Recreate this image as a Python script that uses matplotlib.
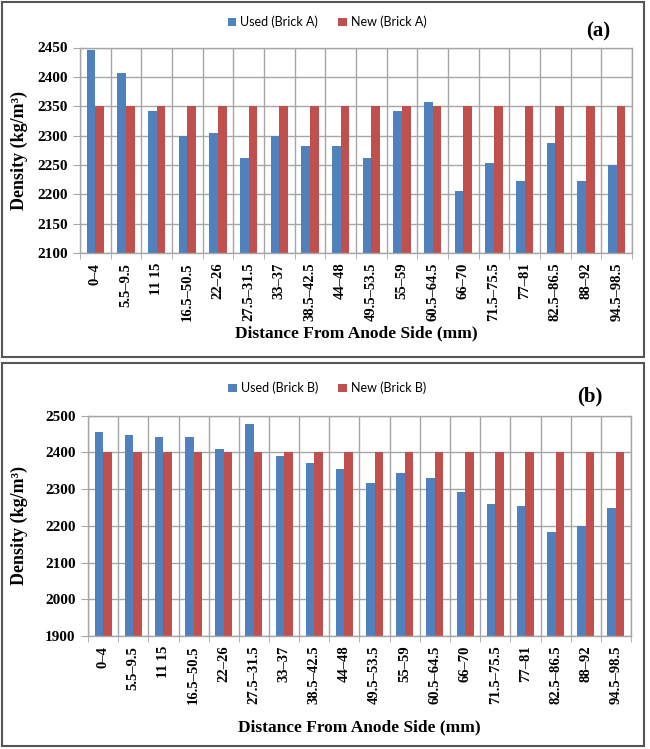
import matplotlib
matplotlib.use("Agg")
import matplotlib.pyplot as plt
import numpy as np
from matplotlib.patches import Rectangle

# Dati
distanze = ["0–4", "5.5–9.5", "11 15", "16.5–50.5", "22–26", "27.5–31.5",
            "33–37", "38.5–42.5", "44–48", "49.5–53.5", "55–59", "60.5–64.5",
            "66–70", "71.5–75.5", "77–81", "82.5–86.5", "88–92", "94.5–98.5"]

used_a = [2446, 2407, 2342, 2300, 2305, 2262, 2300, 2283, 2282,
          2262, 2341, 2357, 2205, 2253, 2222, 2288, 2223, 2250]
new_a = [2350] * 18

used_b = [2455, 2447, 2443, 2441, 2409, 2477, 2389, 2371, 2355,
          2317, 2343, 2329, 2291, 2260, 2253, 2184, 2200, 2249]
new_b = [2400] * 18

BLUE = "#4F81BD"
RED = "#C0504D"
GRID = "#A6A6A6"
SERIF = "Liberation Serif"

W, H = 650, 749


def fx(px):
    return px / W


def fy(py):
    return 1 - py / H


def draw_panel(fig, rect, used, new, ylim, step, labels, tag, tag_xy,
               legend_y, legend_x, xlabel_y):
    ax = fig.add_axes(rect)
    x = np.arange(len(distanze))
    w = 0.28
    ax.bar(x - w / 2, np.array(used) - ylim[0], w, bottom=ylim[0],
           color=BLUE, label=labels[0], zorder=2)
    ax.bar(x + w / 2, np.array(new) - ylim[0], w, bottom=ylim[0],
           color=RED, label=labels[1], zorder=2)

    ax.set_xlim(-0.5, len(distanze) - 0.5)
    ax.set_ylim(*ylim)
    ax.set_yticks(np.arange(ylim[0], ylim[1] + 1, step))
    ax.set_xticks(x)
    ax.set_xticklabels(distanze, rotation=90, fontfamily=SERIF,
                       fontweight="bold", fontsize=10.5)
    ax.set_xticks(np.arange(-0.5, len(distanze), 1), minor=True)
    ax.tick_params(axis="x", which="major", length=0, pad=7)
    ax.tick_params(axis="x", which="minor", length=4, color=GRID)
    ax.tick_params(axis="y", length=5, color=GRID, pad=4)
    for t in ax.get_yticklabels():
        t.set_fontfamily(SERIF)
        t.set_fontweight("bold")
        t.set_fontsize(11)

    ax.grid(axis="y", which="major", color=GRID, lw=1, zorder=0)
    ax.grid(axis="x", which="minor", color=GRID, lw=1, zorder=0)
    ax.set_axisbelow(True)
    for s in ax.spines.values():
        s.set_color(GRID)
        s.set_linewidth(1)

    pos = ax.get_position()
    fig.text(fx(19), pos.y0 + pos.height / 2, "Density (kg/m³)",
             fontfamily=SERIF, fontweight="bold", fontsize=13,
             rotation=90, ha="center", va="center")
    fig.text(pos.x0 + pos.width / 2, fy(xlabel_y), "Distance From Anode Side (mm)",
             fontfamily=SERIF, fontweight="bold", fontsize=12.5,
             ha="center", va="center")
    fig.text(fx(tag_xy[0]), fy(tag_xy[1]), tag, fontfamily=SERIF,
             fontweight="bold", fontsize=15, ha="center", va="center")
    fig.legend(*ax.get_legend_handles_labels(), loc="center",
               bbox_to_anchor=(fx(legend_x), fy(legend_y)), ncol=2,
               frameon=False, handlelength=0.7, handleheight=0.7,
               handletextpad=0.3, columnspacing=1.6,
               prop={"family": "Lato", "size": 9})
    return ax


fig = plt.figure(figsize=(W / 100, H / 100), dpi=100)

# cornici dei pannelli
fig.patches.append(Rectangle((fx(1.5), fy(357)), fx(642), 355.5 / H,
                             transform=fig.transFigure, fill=False,
                             edgecolor="#555555", lw=1.5))
fig.patches.append(Rectangle((fx(1.5), fy(746)), fx(642), 383.5 / H,
                             transform=fig.transFigure, fill=False,
                             edgecolor="#555555", lw=1.5))

draw_panel(fig, [fx(80), fy(253), fx(552), 205.5 / H], used_a, new_a,
           (2100, 2450), 50, ["Used (Brick A)", "New (Brick A)"],
           "(a)", (598, 31), 22, 327, 333)

draw_panel(fig, [fx(88), fy(636), fx(543), 220.3 / H], used_b, new_b,
           (1900, 2500), 100, ["Used (Brick B)", "New (Brick B)"],
           "(b)", (590, 396), 388, 327, 727)

fig.savefig("out.png", dpi=100)
